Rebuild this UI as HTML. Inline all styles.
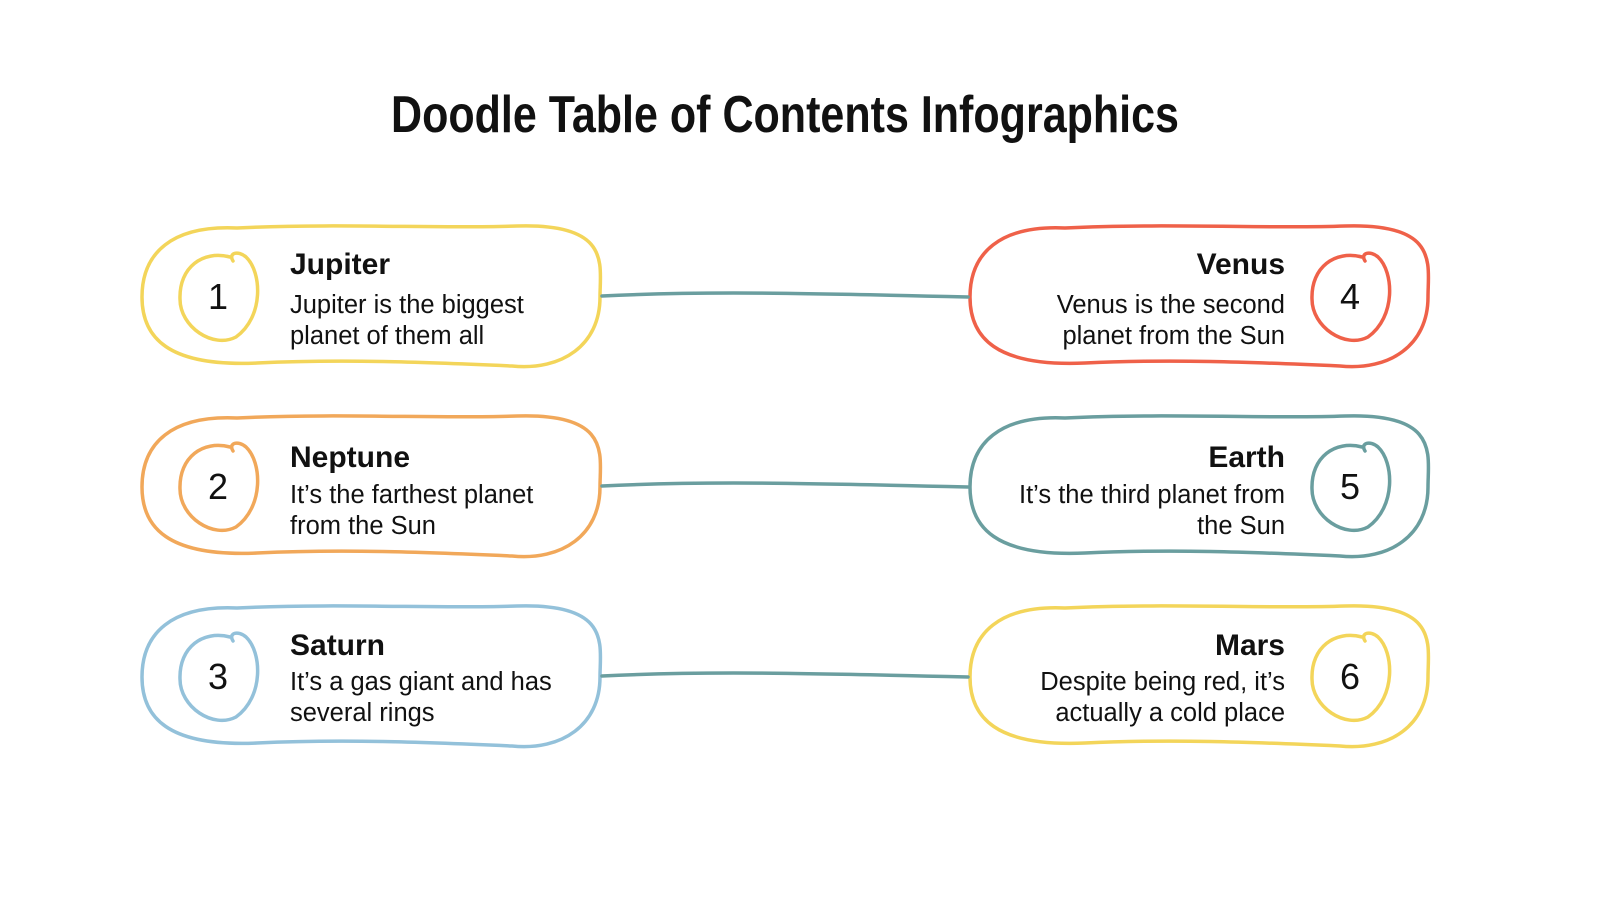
<!DOCTYPE html>
<html><head><meta charset="utf-8"><style>
body{margin:0;background:#fff;width:1600px;height:900px;overflow:hidden;font-family:"Liberation Sans",sans-serif}
svg{position:absolute;left:0;top:0}
.t{font-family:"Liberation Sans",sans-serif;fill:#111}
.h{font-weight:bold;font-size:30px}
.b{font-size:25.5px}
.n{font-size:36px}
</style></head><body>
<svg width="1600" height="900" id="s">
<g id="g" fill="none" stroke-width="3.5" stroke-linecap="round"></g>
<text x="785" y="132" text-anchor="middle" class="t" style="font-family:'Liberation Sans Narrow','Liberation Sans',sans-serif;font-weight:bold;font-size:52px" textLength="788" lengthAdjust="spacingAndGlyphs">Doodle Table of Contents Infographics</text>

<text x="218" y="309" text-anchor="middle" class="t n">1</text>
<text x="290" y="274" class="t h">Jupiter</text>
<text x="290" y="313" class="t b">Jupiter is the biggest</text>
<text x="290" y="344" class="t b">planet of them all</text>

<text x="218" y="499" text-anchor="middle" class="t n">2</text>
<text x="290" y="467" class="t h">Neptune</text>
<text x="290" y="503" class="t b">It’s the farthest planet</text>
<text x="290" y="534" class="t b">from the Sun</text>

<text x="218" y="689" text-anchor="middle" class="t n">3</text>
<text x="290" y="655" class="t h">Saturn</text>
<text x="290" y="690" class="t b">It’s a gas giant and has</text>
<text x="290" y="721" class="t b">several rings</text>

<text x="1350" y="309" text-anchor="middle" class="t n">4</text>
<text x="1285" y="274" text-anchor="end" class="t h">Venus</text>
<text x="1285" y="313" text-anchor="end" class="t b">Venus is the second</text>
<text x="1285" y="344" text-anchor="end" class="t b">planet from the Sun</text>

<text x="1350" y="499" text-anchor="middle" class="t n">5</text>
<text x="1285" y="467" text-anchor="end" class="t h">Earth</text>
<text x="1285" y="503" text-anchor="end" class="t b">It’s the third planet from</text>
<text x="1285" y="534" text-anchor="end" class="t b">the Sun</text>

<text x="1350" y="689" text-anchor="middle" class="t n">6</text>
<text x="1285" y="655" text-anchor="end" class="t h">Mars</text>
<text x="1285" y="690" text-anchor="end" class="t b">Despite being red, it’s</text>
<text x="1285" y="721" text-anchor="end" class="t b">actually a cold place</text>
</svg>
<script>
var g=document.getElementById('g'),ns='http://www.w3.org/2000/svg';
function p(d,c){var e=document.createElementNS(ns,'path');e.setAttribute('d',d);e.setAttribute('stroke',c);g.appendChild(e);}
function box(x,y,c){p(`M${x+95},${y+3} C${x+200},${y-2} ${x+300},${y+4} ${x+375},${y+1} C${x+470},${y-2} ${x+458},${y+40} ${x+458},${y+72} C${x+458},${y+120} ${x+420},${y+146} ${x+370},${y+141} C${x+280},${y+137} ${x+200},${y+134} ${x+115},${y+138} C${x+25},${y+142} ${x},${y+112} ${x},${y+72} C${x},${y+28} ${x+30},${y+0} ${x+95},${y+3} Z`,c);}
function circ(cx,cy,c){p(`M${cx+15},${cy-36} C${cx+10},${cy-44} ${cx+20},${cy-47} ${cx+28},${cy-40} C${cx+44},${cy-25} ${cx+46},${cy+20} ${cx+18},${cy+40} C${cx-5},${cy+52} ${cx-38},${cy+30} ${cx-38},${cy+2} C${cx-39},${cy-30} ${cx-15},${cy-47} ${cx+12},${cy-40}`,c);}
var L=['#f3d55a','#f1a85a','#93c1da'],R=['#ef6149','#6a9e9f','#f3d55a'];
for(var i=0;i<3;i++){var y=225+i*190;
box(142,y,L[i]);box(970,y,R[i]);circ(218,y+72,L[i]);circ(1350,y+72,R[i]);
p(`M602,${y+71} C700,${y+66} 800,${y+68} 968,${y+72}`,'#6a9e9f');}
</script>
</body></html>
